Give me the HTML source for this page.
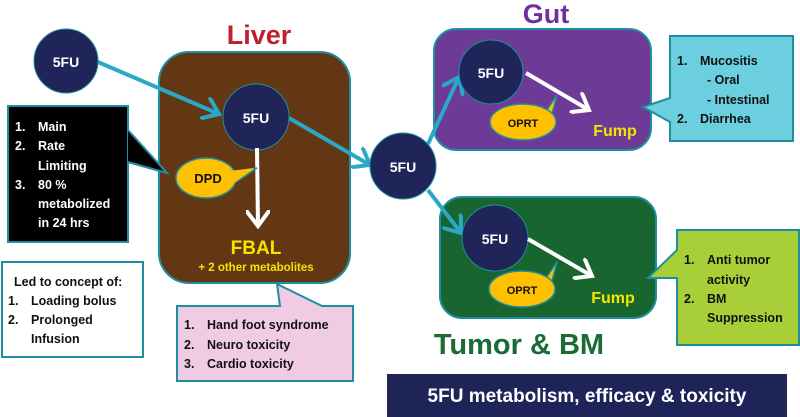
<!DOCTYPE html>
<html><head><meta charset="utf-8"><style>
html,body{margin:0;padding:0;background:#fff;width:800px;height:417px;overflow:hidden}
svg{display:block;font-family:"Liberation Sans",sans-serif;font-weight:bold}
</style></head><body>
<svg width="800" height="417" viewBox="0 0 800 417">
<defs>
<marker id="ta" markerWidth="6" markerHeight="6" refX="4" refY="3" orient="auto" markerUnits="strokeWidth"><path d="M0,0 L4,3 L0,6" fill="none" stroke="#2aa8c8" stroke-width="1"/></marker>
<marker id="wa" markerWidth="6" markerHeight="6" refX="4" refY="3" orient="auto" markerUnits="strokeWidth"><path d="M0,0 L4,3 L0,6" fill="none" stroke="#fff" stroke-width="1"/></marker>
</defs>
<!-- Liver -->
<text x="259" y="44" text-anchor="middle" fill="#c0202c" font-size="27">Liver</text>
<rect x="159" y="52" width="191" height="231" rx="30" fill="#643714" stroke="#1f8ea0" stroke-width="2"/>
<!-- Gut -->
<text x="546" y="23" text-anchor="middle" fill="#7030a0" font-size="27">Gut</text>
<rect x="434" y="29" width="217" height="121" rx="22" fill="#6d3a96" stroke="#1f8ea0" stroke-width="2"/>
<!-- Tumor -->
<rect x="440" y="197" width="216" height="121" rx="22" fill="#19652f" stroke="#1f8ea0" stroke-width="2"/>
<text x="519" y="354" text-anchor="middle" fill="#1a6b35" font-size="29">Tumor &amp; BM</text>

<!-- black callout -->
<path d="M8,106 H128 V162 L167,173 L128,162 V242 H8 Z" fill="#000" stroke="#1f8ea0" stroke-width="2"/>
<path d="M128,130 L167,173 L128,162" fill="#000" stroke="#1f8ea0" stroke-width="2"/>
<rect x="9" y="107" width="118" height="134" fill="#000"/>
<g fill="#fff" font-size="12.5">
<text x="15" y="131">1.</text><text x="38" y="131">Main</text>
<text x="15" y="150">2.</text><text x="38" y="150">Rate</text>
<text x="38" y="170">Limiting</text>
<text x="15" y="189">3.</text><text x="38" y="189">80 %</text>
<text x="38" y="208">metabolized</text>
<text x="38" y="227">in 24 hrs</text>
</g>
<!-- white box -->
<rect x="2" y="262" width="141" height="95" fill="#fff" stroke="#1f8ea0" stroke-width="2"/>
<g fill="#111" font-size="12.5">
<text x="14" y="286">Led to concept of:</text>
<text x="8" y="305">1.</text><text x="31" y="305">Loading bolus</text>
<text x="8" y="324">2.</text><text x="31" y="324">Prolonged</text>
<text x="31" y="343">Infusion</text>
</g>
<!-- pink callout -->
<path d="M177,306 H280 L277,284 L322,306 H353 V381 H177 Z" fill="#f0cce4" stroke="#1f8ea0" stroke-width="2"/>
<g fill="#111" font-size="12.5">
<text x="184" y="329">1.</text><text x="207" y="329">Hand foot syndrome</text>
<text x="184" y="349">2.</text><text x="207" y="349">Neuro toxicity</text>
<text x="184" y="368">3.</text><text x="207" y="368">Cardio toxicity</text>
</g>
<!-- blue callout -->
<path d="M670,36 H793 V141 H670 V122 L643,107 L670,98 Z" fill="#6ccfe0" stroke="#1f8ea0" stroke-width="2"/>
<g fill="#111" font-size="12.5">
<text x="677" y="65">1.</text><text x="700" y="65">Mucositis</text>
<text x="707" y="84">- Oral</text>
<text x="707" y="104">- Intestinal</text>
<text x="677" y="123">2.</text><text x="700" y="123">Diarrhea</text>
</g>
<!-- green callout -->
<path d="M677,230 H799 V345 H677 V278 L648,278 L677,250 Z" fill="#a8cf38" stroke="#1f8ea0" stroke-width="2"/>
<g fill="#111" font-size="12.5">
<text x="684" y="264">1.</text><text x="707" y="264">Anti tumor</text>
<text x="707" y="284">activity</text>
<text x="684" y="303">2.</text><text x="707" y="303">BM</text>
<text x="707" y="322">Suppression</text>
</g>

<!-- teal arrows -->
<g stroke="#2aa8c8" stroke-width="4" fill="none">
<line x1="98" y1="62" x2="219" y2="114" marker-end="url(#ta)"/>
<line x1="289" y1="118" x2="370" y2="165" marker-end="url(#ta)"/>
<line x1="428" y1="144" x2="459" y2="77" marker-end="url(#ta)"/>
<line x1="428" y1="190" x2="461" y2="233" marker-end="url(#ta)"/>
</g>
<!-- circles -->
<g fill="#1f2459" stroke="#1f8ea0" stroke-width="1">
<circle cx="66" cy="61" r="32"/>
<circle cx="256" cy="117" r="33"/>
<circle cx="403" cy="166" r="33"/>
<circle cx="491" cy="72" r="32"/>
<circle cx="495" cy="238" r="33"/>
</g>
<g fill="#fff" font-size="14" text-anchor="middle">
<text x="66" y="67">5FU</text>
<text x="256" y="123">5FU</text>
<text x="403" y="172">5FU</text>
<text x="491" y="78">5FU</text>
<text x="495" y="244">5FU</text>
</g>
<!-- white arrows -->
<g stroke="#fff" stroke-width="4" fill="none">
<line x1="257" y1="148" x2="258" y2="226" marker-end="url(#wa)"/>
<line x1="526" y1="73" x2="589" y2="110" marker-end="url(#wa)"/>
<line x1="528" y1="239" x2="592" y2="276" marker-end="url(#wa)"/>
</g>
<!-- enzyme bubbles -->
<g fill="#ffc000" stroke="#1f8ea0" stroke-width="1.5">
<path d="M232,172 L257,168 L230,186 Z"/>
<ellipse cx="206" cy="178" rx="30" ry="20"/>
<path d="M545,113 L557,95 L549,125 Z"/>
<ellipse cx="523" cy="122" rx="33" ry="18"/>
<path d="M545,280 L557,262 L549,292 Z"/>
<ellipse cx="522" cy="289" rx="33" ry="18"/>
</g>
<path d="M230,171 L254,168 L229,187 Z" fill="#ffc000"/>
<g fill="#111" text-anchor="middle">
<text x="208" y="183" font-size="13">DPD</text>
<text x="523" y="127" font-size="11">OPRT</text>
<text x="522" y="294" font-size="11">OPRT</text>
</g>
<g fill="#f2e600" text-anchor="middle">
<text x="256" y="254" font-size="19">FBAL</text>
<text x="256" y="271" font-size="11.5">+ 2 other metabolites</text>
<text x="615" y="136" font-size="16">Fump</text>
<text x="613" y="303" font-size="16">Fump</text>
</g>
<!-- banner -->
<rect x="387" y="374" width="400" height="43" fill="#1e2358"/>
<text x="587" y="402" text-anchor="middle" fill="#fff" font-size="19">5FU metabolism, efficacy &amp; toxicity</text>
</svg>
</body></html>
